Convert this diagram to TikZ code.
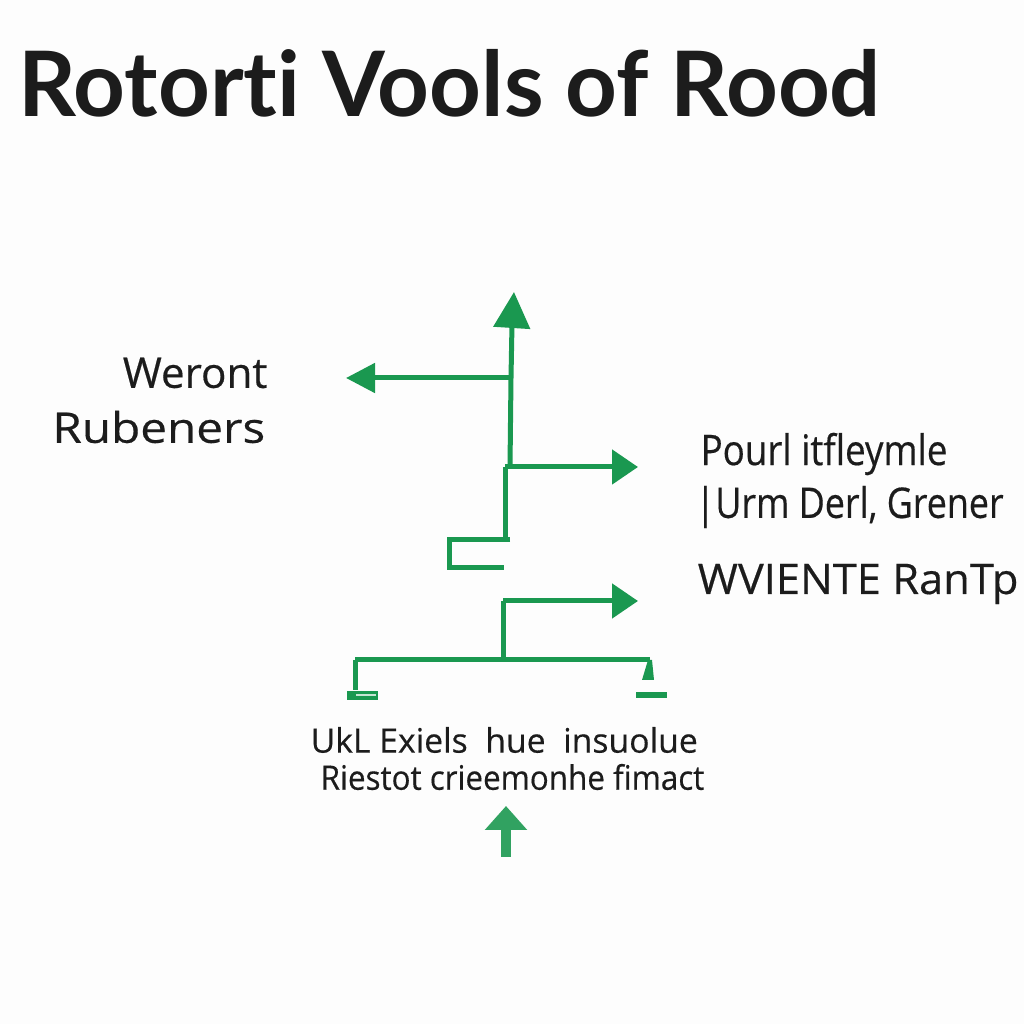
\documentclass[tikz,border=0pt]{standalone}
\usepackage{fontspec}
\setmainfont[FakeBold=0.4]{Open Sans}
\newfontfamily\labelfont[FakeBold=0.4]{Open Sans}
\newfontfamily\titlefont[Ligatures=NoCommon]{Lato}
\usepackage{xcolor}
\usetikzlibrary{arrows.meta}
\definecolor{flowgreen}{RGB}{26,152,80}
\definecolor{inkblack}{RGB}{28,28,28}
\definecolor{paper}{RGB}{253,253,253}
\begin{document}
\begin{tikzpicture}[
		flowline/.style={color = flowgreen, line width = 0.5mm},
		flowarrow/.style={flowline, -{Triangle[length=2.6mm,width=3.4mm]}},
		label/.style={color = inkblack, font=\fontsize{12}{14}\selectfont\labelfont, inner sep=0pt, transform shape},
		smalllabel/.style={label, font=\fontsize{9.6}{11}\selectfont\labelfont},
		foot/.style={fill = flowgreen, inner sep=0pt, minimum height=0.9mm, minimum width=3.1mm}
	]
	\path[fill = paper] (0,0) rectangle (10.24,10.24);
	\useasboundingbox (0,0) rectangle (10.24,10.24);

	\node[color = inkblack, font=\fontsize{25.7}{30}\selectfont\titlefont\bfseries, inner sep=0pt, anchor=west] (title) at (0.18,9.41) {Rotorti Vools of Rood};

	\node[label, anchor=east] (weront) at (2.68,6.51) {Weront};
	\node[label, anchor=east, xscale=1.13] (rubeners) at (2.66,5.97) {Rubeners};
	\node[label, anchor=west, xscale=0.87] (pourl) at (7.0,5.7) {Pourl itfleymle};
	\node[label, anchor=west, xscale=0.85] (urm) at (6.95,5.17) {|Urm Derl, Grener};
	\node[label, anchor=west, xscale=1.03] (wvi) at (6.97,4.4) {WVIENTE RanTp};
	\node[smalllabel, anchor=west] (exiels) at (3.1,2.84) {UkL Exiels\ \ hue\ \ insuolue};
	\node[smalllabel, anchor=west, xscale=0.93] (fimact) at (3.2,2.47) {Riestot crieemonhe fimact};

	\coordinate (top) at (5.19,7.32);
	\coordinate (branch) at (5.11,6.46);
	\coordinate (lefttip) at (3.46,6.46);
	\coordinate (stepa) at (5.1,5.57);
	\coordinate (stepb) at (5.05,5.57);
	\coordinate (righttip) at (6.38,5.57);
	\coordinate (stepc) at (5.05,4.84);
	\coordinate (hooka) at (5.1,4.84);
	\coordinate (hookb) at (4.49,4.84);
	\coordinate (hookc) at (4.49,4.56);
	\coordinate (hookd) at (5.04,4.56);
	\coordinate (riserb) at (5.03,4.23);
	\coordinate (riserbtip) at (6.38,4.23);
	\coordinate (riser) at (5.03,3.64);
	\coordinate (barl) at (3.55,3.64);
	\coordinate (barr) at (6.5,3.64);

	\node[foot] (footl) at (3.625,3.285) {};
	\node[foot, minimum height=0.6mm] (footr) at (6.51,3.29) {};
	\node[fill = flowgreen!25, inner sep=0pt, minimum height=0.25mm, minimum width=2mm] (footlin) at (3.66,3.29) {};

	\draw[flowline] (branch) -- (5.12,7.0);
	\draw[flowline, -{Triangle[length=3.6mm,width=3.6mm]}] (5.12,7.0) -- (5.14,7.32);
	\draw[flowarrow, -{Triangle[length=2.9mm,width=2.9mm]}] (branch) -- (lefttip);
	\draw[flowline] (stepa) -- (branch);
	\draw[flowarrow] (stepb) -- (righttip);
	\draw[flowline] (stepb) -- (stepc);
	\draw[flowline] (hooka) -- (hookb) -- (hookc) -- (hookd);
	\draw[flowarrow] (riserb) -- (riserbtip);
	\draw[flowline] (riserb) -- (riser);
	\draw[flowline] (barl) -- (barr);
	\draw[flowline] (barl) -- (barl |- footl.north);

	\fill[flowgreen] (6.48,3.64) -- (6.52,3.64) -- (6.54,3.44) -- (6.42,3.44) -- cycle;

	\coordinate (upbase) at (5.06,1.67);
	\coordinate (uptip) at (5.06,2.18);
	\draw[color = flowgreen!90, line width = 1mm, -{Triangle[length=2.4mm,width=4.1mm]}] (upbase) -- (uptip);
\end{tikzpicture}
\end{document}
